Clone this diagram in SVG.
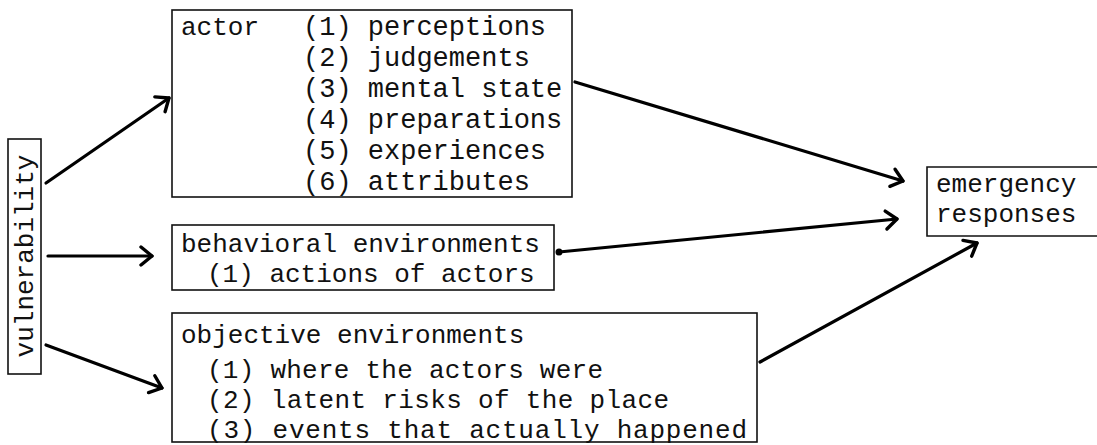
<svg xmlns="http://www.w3.org/2000/svg" width="1097" height="445" viewBox="0 0 1097 445">
<style>
  .box { fill: #fff; stroke: #111; stroke-width: 1.6; }
  .t { font-family: "Liberation Mono", "Courier New", monospace; font-size: 26px; fill: #111; }
  .w { font-size: 27px; }
  .c { fill: none; stroke: #000; stroke-width: 3.2; stroke-linecap: round; stroke-linejoin: round; }
</style>
<defs>
  <marker id="ah" viewBox="0 0 22 22" refX="18" refY="11" markerWidth="22" markerHeight="22" markerUnits="userSpaceOnUse" orient="auto">
    <path d="M7,2 L18,11 L7,20" fill="none" stroke="#000" stroke-width="3.4" stroke-linecap="round" stroke-linejoin="round"/>
  </marker>
</defs>
<rect width="1097" height="445" fill="#fff"/>

<g id="vulnerability">
  <rect class="box" x="8" y="139" width="33" height="235"/>
  <text class="t" transform="translate(33,256) rotate(-90)" text-anchor="middle">vulnerability</text>
</g>

<g id="actor">
  <rect class="box" x="172" y="10" width="400" height="187"/>
  <text class="t" x="181" y="35">actor</text>
  <text class="t w" x="303" y="35">(1) perceptions</text>
  <text class="t w" x="303" y="66">(2) judgements</text>
  <text class="t w" x="303" y="97">(3) mental state</text>
  <text class="t w" x="303" y="128">(4) preparations</text>
  <text class="t w" x="303" y="159">(5) experiences</text>
  <text class="t w" x="303" y="190">(6) attributes</text>
</g>

<g id="behavioral">
  <rect class="box" x="172" y="225" width="382" height="65"/>
  <text class="t" x="181" y="252">behavioral environments</text>
  <text class="t" x="207" y="282">(1) actions of actors</text>
</g>

<g id="objective">
  <rect class="box" x="172" y="313" width="585" height="129"/>
  <text class="t" x="181" y="343">objective environments</text>
  <text class="t" x="207" y="378" textLength="396" lengthAdjust="spacing">(1) where the actors were</text>
  <text class="t" x="207" y="408" textLength="462" lengthAdjust="spacing">(2) latent risks of the place</text>
  <text class="t" x="207" y="438" textLength="540" lengthAdjust="spacing">(3) events that actually happened</text>
</g>

<g id="emergency">
  <path class="box" d="M1100,167 L927,167 L927,236 L1100,236" fill="#fff"/>
  <text class="t" x="936" y="192">emergency</text>
  <text class="t" x="936" y="222">responses</text>
</g>

<g id="connectors">
  <line class="c" x1="46" y1="183" x2="169" y2="98" marker-end="url(#ah)"/>
  <line class="c" x1="48" y1="256" x2="152" y2="256" marker-end="url(#ah)"/>
  <line class="c" x1="46" y1="345" x2="162" y2="388" marker-end="url(#ah)"/>
  <line class="c" x1="575" y1="82" x2="903" y2="181" marker-end="url(#ah)"/>
  <circle cx="559" cy="252" r="3.5" fill="#000"/>
  <line class="c" x1="559" y1="252" x2="897" y2="219" marker-end="url(#ah)"/>
  <line class="c" x1="760" y1="362" x2="977" y2="243" marker-end="url(#ah)"/>
</g>
</svg>
